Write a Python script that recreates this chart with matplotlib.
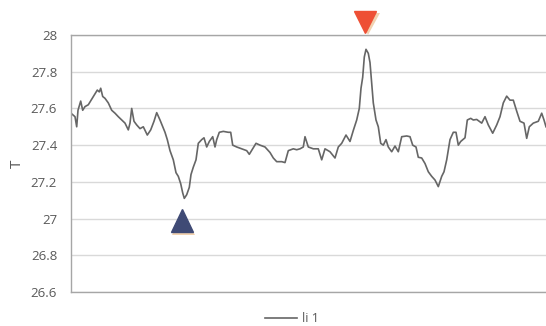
import matplotlib
matplotlib.use("Agg")
import matplotlib.pyplot as plt
import matplotlib.patheffects as pe

plt.rcParams['font.family'] = ['Open Sans', 'DejaVu Sans']

# time positions (arbitrary units) and temperature values
t = [0, 4, 5.7, 7, 9.7, 11.7, 14, 17.3, 20.7, 24, 26.3, 28.3, 29.7, 31.7, 34, 37.3,
     40.7, 44, 47.3, 50.7, 54, 57.3, 59, 60.7, 63, 65.7, 69, 72.3, 76.3, 79.7, 83,
     85.7, 89, 94, 96.3, 99, 102.3, 105, 107.3, 109.7, 111.7, 113.3, 115.7, 118.3,
     120, 122.3, 125, 127.3, 130.7, 133, 135.7, 138.3, 141.7, 144, 145.7, 148.3,
     152.3, 157.3, 159.7, 161.7, 165.7, 170.7, 175.7, 178.3, 181.7, 185, 189, 194,
     199, 202.3, 205.7, 210.7, 214, 217.3, 222.3, 225.7, 229, 232.3, 234, 237.3,
     242.3, 247.3, 250.7, 254, 259, 264, 267.3, 270.7, 275, 279, 282.3, 285.7,
     288.3, 290, 291.7, 293.3, 295, 297.3, 299, 300.7, 302.3, 305, 307.3, 309.7,
     312.3, 315, 317.3, 320.7, 324, 327.3, 330.7, 335.7, 339, 341.7, 345, 347.3,
     350.7, 354, 357.3, 360.7, 364, 367.3, 370.7, 373, 375.7, 379, 382.3, 385,
     387.3, 389.7, 394, 396.3, 399.7, 402.3, 405.7, 410.7, 414, 417.3, 421.7,
     425.7, 429, 432.3, 435.7, 439, 442.3, 445.7, 449, 453, 455.7, 458.3, 462.3,
     467.3, 470.7, 473, 475]
temp = [27.574, 27.555, 27.50, 27.59, 27.64, 27.59, 27.61, 27.62, 27.65, 27.68,
        27.70, 27.69, 27.71, 27.665, 27.655, 27.63, 27.59, 27.574, 27.555, 27.537,
        27.52, 27.483, 27.52, 27.60, 27.53, 27.51, 27.49, 27.50, 27.455, 27.483,
        27.53, 27.577, 27.537, 27.47, 27.43, 27.37, 27.32, 27.25, 27.23, 27.19,
        27.14, 27.11, 27.13, 27.17, 27.24, 27.28, 27.32, 27.41, 27.43, 27.44,
        27.39, 27.42, 27.446, 27.39, 27.43, 27.47, 27.475, 27.47, 27.47, 27.40,
        27.39, 27.38, 27.37, 27.35, 27.38, 27.41, 27.40, 27.39, 27.36, 27.33,
        27.31, 27.31, 27.305, 27.37, 27.38, 27.375, 27.38, 27.39, 27.446, 27.39,
        27.38, 27.38, 27.32, 27.38, 27.364, 27.33, 27.39, 27.41, 27.455, 27.42,
        27.48, 27.537, 27.60, 27.71, 27.77, 27.88, 27.922, 27.90, 27.85, 27.74,
        27.63, 27.537, 27.50, 27.41, 27.40, 27.43, 27.39, 27.364, 27.395, 27.364,
        27.446, 27.45, 27.446, 27.40, 27.39, 27.334, 27.33, 27.30, 27.255, 27.23,
        27.21, 27.174, 27.23, 27.255, 27.32, 27.43, 27.47, 27.47, 27.40, 27.42,
        27.44, 27.537, 27.546, 27.537, 27.54, 27.52, 27.555, 27.51, 27.465, 27.51,
        27.555, 27.63, 27.667, 27.645, 27.645, 27.585, 27.53, 27.52, 27.437, 27.50,
        27.52, 27.53, 27.574, 27.537, 27.50]

# marker positions
max_t, max_v = [294], [28.07]
min_t, min_v = [111], [26.99]

series_label = "li 1"
y_ticks = [26.6, 26.8, 27.0, 27.2, 27.4, 27.6, 27.8, 28.0]
y_tick_labels = ["26.6", "26.8", "27", "27.2", "27.4", "27.6", "27.8", "28"]

fig = plt.figure(figsize=(5.46, 3.26), dpi=100)
ax = fig.add_axes([71/546, 1 - 292/326, 1 - 71/546, (292 - 35)/326])

line, = ax.plot(t, temp, color="#666666", lw=1.2, label=series_label)

shadow = '#F2D2B0'
ax.plot(max_t, max_v, marker='v', ms=16, color='#EE5035', ls='none', clip_on=False,
        zorder=5,
        path_effects=[pe.SimplePatchShadow(offset=(2.5, -1.5), shadow_rgbFace=shadow, alpha=1),
                      pe.Normal()])
ax.plot(min_t, min_v, marker='^', ms=16, color='#3F4A75', ls='none', clip_on=False,
        zorder=5,
        path_effects=[pe.SimplePatchShadow(offset=(1, -2.5), shadow_rgbFace=shadow, alpha=1),
                      pe.Normal()])

ax.set_xlim(0, 475)
ax.set_ylim(26.6, 28.0)
ax.set_yticks(y_ticks)
ax.set_yticklabels(y_tick_labels)
ax.set_xticks([])
ax.tick_params(axis='y', length=0, pad=10, labelsize=9.5, labelcolor="#595959")
ax.yaxis.grid(True, color="#D9D9D9", lw=1)
ax.set_axisbelow(True)
for s in ['left', 'top', 'bottom']:
    ax.spines[s].set_color('#A6A6A6')
    ax.spines[s].set_linewidth(1)
ax.spines['right'].set_visible(False)
ax.set_ylabel("T", color="#595959", fontsize=11)
ax.yaxis.set_label_coords((25 - 71) / 475, 0.5)

fig.legend(handles=[line], loc='center', bbox_to_anchor=(292/546, 7/326),
           frameon=False, fontsize=9, labelcolor="#595959", handlelength=2.5,
           handletextpad=0.4)

fig.savefig("out.png", dpi=100)
